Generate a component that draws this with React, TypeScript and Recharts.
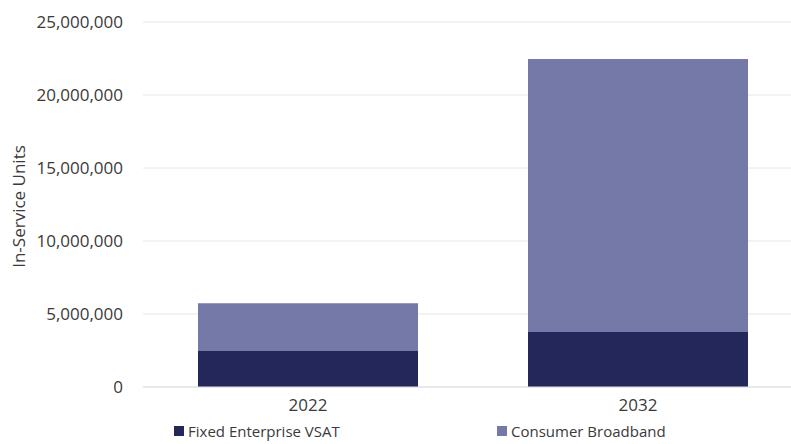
import React from "react";
import { BarChart, Bar, XAxis, YAxis, CartesianGrid, Legend } from "recharts";

const categories = ["2022", "2032"];
const fixedEnterpriseVsat = [2470000, 3770000];
const consumerBroadband = [3270000, 18700000];
const yTicks = [0, 5000000, 10000000, 15000000, 20000000, 25000000];

const seriesNames = ["Fixed Enterprise VSAT", "Consumer Broadband"];
const seriesColors = ["#24275a", "#7479a7"];

const data = categories.map((c, i) => ({
  year: c,
  vsat: fixedEnterpriseVsat[i],
  consumer: consumerBroadband[i],
}));

const FONT = "'Open Sans', sans-serif";
const TEXT = "#3a3a3a";

const fmt = (v: number) => v.toLocaleString("en-US");

const YLabel = (props: any) => {
  const vb = props.viewBox || {};
  const x = (vb.x || 0) + 18;
  const y = (vb.y || 0) + (vb.height || 0) / 2 + 2;
  return (
    <text
      x={x}
      y={y}
      transform={`rotate(-90, ${x}, ${y})`}
      textAnchor="middle"
      dominantBaseline="central"
      fill={TEXT}
      fontSize={17}
      fontFamily={FONT}
    >
      In-Service Units
    </text>
  );
};

const LegendContent = () => (
  <div style={{ display: "flex", paddingLeft: 174, fontFamily: FONT, fontSize: 15, color: TEXT, lineHeight: "18px" }}>
    {seriesNames.map((n, i) => (
      <div key={n} style={{ width: 329, display: "flex", alignItems: "center" }}>
        <span style={{ display: "inline-block", width: 10, height: 10, background: seriesColors[i], marginRight: 4 }} />
        <span>{n}</span>
      </div>
    ))}
  </div>
);

export default function App() {
  return (
    <div style={{ position: "absolute", left: 0, top: 0, width: 791, height: 444, overflow: "hidden", background: "#fff" }}>
      <BarChart
        width={820}
        height={444}
        data={data}
        margin={{ top: 22, right: 17, bottom: 2, left: 0 }}
        barCategoryGap={55}
      >
        <CartesianGrid vertical={false} stroke="#e6e6e6" />
        <XAxis
          dataKey="year"
          axisLine={{ stroke: "#e0e0e0" }}
          tickLine={false}
          tickMargin={6}
          height={35}
          tick={{ fill: TEXT, fontSize: 17, fontFamily: FONT }}
        />
        <YAxis
          width={143}
          domain={[0, 25000000]}
          ticks={yTicks}
          tickFormatter={fmt}
          axisLine={false}
          tickLine={false}
          tickMargin={14}
          tick={{ fill: TEXT, fontSize: 17, fontFamily: FONT }}
          label={<YLabel />}
        />
        <Legend verticalAlign="bottom" height={20} content={<LegendContent />} wrapperStyle={{ left: 0, width: 820 }} />
        <Bar dataKey="vsat" name={seriesNames[0]} stackId="a" fill={seriesColors[0]} isAnimationActive={false} />
        <Bar dataKey="consumer" name={seriesNames[1]} stackId="a" fill={seriesColors[1]} isAnimationActive={false} />
      </BarChart>
    </div>
  );
}
